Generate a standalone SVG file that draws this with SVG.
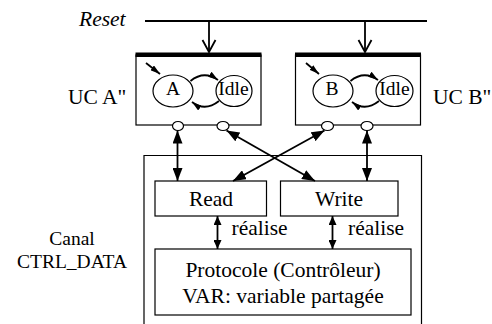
<svg xmlns="http://www.w3.org/2000/svg" width="492" height="324" viewBox="0 0 492 324" font-family="'Liberation Serif','Times New Roman',serif">
<style>
text{font-family:"Liberation Serif","Times New Roman",serif;fill:#000}
.t{font-size:21.5px}
.s{font-size:19.5px}
.m{text-anchor:middle}
.box{fill:#fff;stroke:#000;stroke-width:1.2}
.st{fill:#fff;stroke:#000;stroke-width:1.2}
.ar{fill:none;stroke:#000;stroke-width:1.8}
.port{fill:#fff;stroke:#000;stroke-width:1.2}
</style>
<defs>
<marker id="big" viewBox="0 0 13 10" refX="13" refY="5" markerWidth="13" markerHeight="10" markerUnits="userSpaceOnUse" orient="auto-start-reverse"><path d="M0,0 L13,5 L0,10 z" fill="#000"/></marker>
<marker id="mid" viewBox="0 0 9 8" refX="9" refY="4" markerWidth="9" markerHeight="8" markerUnits="userSpaceOnUse" orient="auto-start-reverse"><path d="M0,0 L9,4 L0,8 z" fill="#000"/></marker>
<marker id="sm" viewBox="0 0 10 6" refX="10" refY="3" markerWidth="10" markerHeight="6" markerUnits="userSpaceOnUse" orient="auto"><path d="M0,0 L10,3 L0,6 z" fill="#000"/></marker>
<marker id="open" viewBox="0 0 14 16" refX="13" refY="8" markerWidth="14" markerHeight="16" markerUnits="userSpaceOnUse" orient="auto"><path d="M1,1.5 L13,8 L1,14.5" fill="none" stroke="#000" stroke-width="1.8"/></marker>
</defs>

<g id="reset">
<text class="t" x="79" y="26" font-style="italic">Reset</text>
</g>

<g id="canal">
<path d="M144,330 V155.5 H421.5 V330" class="box"/>
<text class="s m" x="72" y="245">Canal</text>
<text class="s m" x="72" y="268">CTRL_DATA</text>
</g>

<g id="ucA">
<rect class="box" x="136" y="55" width="125" height="70"/>
<rect x="135.5" y="52.5" width="126" height="4.5" fill="#000"/>
<ellipse class="st" cx="173" cy="91" rx="20" ry="16"/>
<ellipse class="st" cx="234" cy="91" rx="18" ry="15.5"/>
<text class="s m" x="173" y="95">A</text>
<text class="s m" x="233.5" y="95">Idle</text>
<ellipse class="port" cx="178" cy="126" rx="5.5" ry="4.5"/>
<ellipse class="port" cx="223" cy="126" rx="6" ry="4.5"/>
<text class="t" x="68" y="104">UC A"</text>
</g>

<g id="ucB">
<rect class="box" x="295.5" y="55" width="125" height="70"/>
<rect x="295" y="52.5" width="126" height="4.5" fill="#000"/>
<ellipse class="st" cx="333" cy="91" rx="20" ry="16"/>
<ellipse class="st" cx="394.5" cy="91" rx="18.5" ry="15.5"/>
<text class="s m" x="332" y="95">B</text>
<text class="s m" x="394.5" y="95">Idle</text>
<ellipse class="port" cx="327.5" cy="126" rx="6" ry="4.5"/>
<ellipse class="port" cx="367" cy="126" rx="6" ry="4.5"/>
<text class="t" x="433" y="104">UC B"</text>
</g>

<g id="read">
<rect class="box" x="155" y="181" width="111.5" height="35"/>
<text class="t m" x="211" y="206">Read</text>
</g>

<g id="write">
<rect class="box" x="280.5" y="181" width="117.5" height="35"/>
<text class="t m" x="339" y="206">Write</text>
</g>

<g id="protocole">
<rect class="box" x="155" y="249" width="256" height="66"/>
<text class="t m" x="283" y="277">Protocole (Contrôleur)</text>
<text class="t m" x="283" y="303">VAR: variable partagée</text>
</g>

<g id="connectors">
<path class="ar" d="M145,21 H427" stroke-width="2"/>
<path class="ar" d="M209,21 V52" marker-end="url(#open)"/>
<path class="ar" d="M365,21 V52" marker-end="url(#open)"/>
<path class="ar" d="M146,63 L160,74" stroke-width="1.5" marker-end="url(#sm)"/>
<path class="ar" d="M190.5,81 Q204,70 218,80" stroke-width="1.3" marker-end="url(#sm)"/>
<path class="ar" d="M219,101 Q205,112 192,102" stroke-width="1.3" marker-end="url(#sm)"/>
<path class="ar" d="M306,63 L319,74" stroke-width="1.5" marker-end="url(#sm)"/>
<path class="ar" d="M350.5,81 Q364,70 378,80" stroke-width="1.3" marker-end="url(#sm)"/>
<path class="ar" d="M379,101 Q365,112 352,102" stroke-width="1.3" marker-end="url(#sm)"/>
<path class="ar" d="M177.5,130.5 V181" marker-start="url(#big)" marker-end="url(#big)"/>
<path class="ar" d="M367,130.5 V181" marker-start="url(#big)" marker-end="url(#big)"/>
<path class="ar" d="M226.5,130.5 L315,181" marker-start="url(#big)" marker-end="url(#big)"/>
<path class="ar" d="M324.5,130.5 L233,181" marker-start="url(#big)" marker-end="url(#big)"/>
<path class="ar" d="M217.5,216 V249" marker-start="url(#mid)" marker-end="url(#mid)"/>
<path class="ar" d="M332.5,216 V249" marker-start="url(#mid)" marker-end="url(#mid)"/>
<text class="t" x="231.5" y="235">réalise</text>
<text class="t" x="348" y="235">réalise</text>
</g>
</svg>
